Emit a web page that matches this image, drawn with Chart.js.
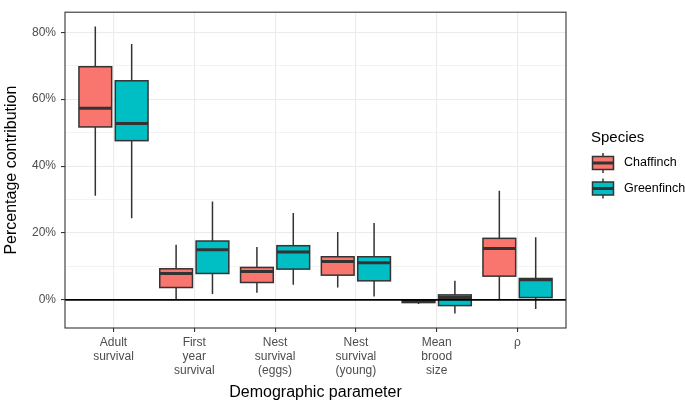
<!DOCTYPE html>
<html><head><meta charset="utf-8">
<script src="https://cdn.jsdelivr.net/npm/chart.js@4.4.1/dist/chart.umd.min.js"></script>
<style>html,body{margin:0;padding:0;background:#fff}#wrap{width:685px;height:401px;position:relative}</style>
</head><body><div id="wrap"><canvas id="c"></canvas></div>
<script>
// ---- data ----
const categories = [['Adult','survival'],['First','year','survival'],['Nest','survival','(eggs)'],['Nest','survival','(young)'],['Mean','brood','size'],['ρ']];
const species = ['Chaffinch','Greenfinch'];
const chaffMin = [31.1, 0.0, 2.1, 3.7, -1.2, 0.2];
const chaffQ1  = [51.7, 3.7, 5.2, 7.4, -0.8, 7.1];
const chaffMed = [57.3, 7.9, 8.5, 11.5, -0.4, 15.4];
const chaffQ3  = [69.7, 9.3, 9.7, 12.9, -0.1, 18.4];
const chaffMax = [81.7, 16.5, 15.8, 20.3, 0.0, 32.6];
const greenMin = [24.4, 1.8, 4.5, 1.0, -4.1, -2.7];
const greenQ1  = [47.6, 7.9, 9.2, 5.7, -1.7, 0.7];
const greenMed = [52.7, 15.0, 14.3, 11.1, 0.7, 6.0];
const greenQ3  = [65.5, 17.6, 16.2, 12.9, 1.5, 6.4];
const greenMax = [76.5, 29.4, 26.0, 23.0, 5.7, 18.7];
const yMajorTicks = [0, 20, 40, 60, 80];
const yMinorTicks = [10, 30, 50, 70];
const xTitle = 'Demographic parameter';
const yTitle = 'Percentage contribution';
const legendTitle = 'Species';

const FONT = '"Liberation Sans", Arial, Helvetica, sans-serif';
const colors = ['#F8766D', '#00BFC4'];
const stats = [
  {min: chaffMin, q1: chaffQ1, med: chaffMed, q3: chaffQ3, max: chaffMax},
  {min: greenMin, q1: greenQ1, med: greenMed, q3: greenQ3, max: greenMax}
];

const datasets = stats.map((s, d) => ({
  label: species[d],
  data: categories.map((c, i) => ({x: i + 1, y: [s.q1[i], s.q3[i]]})),
  backgroundColor: colors[d],
  borderWidth: 0,
  categoryPercentage: 0.9,
  barPercentage: 0.9
}));

const boxPlugin = {
  id: 'boxplot',
  beforeDatasetsDraw(chart) {
    const ctx = chart.ctx, y = chart.scales.y;
    ctx.save();
    ctx.strokeStyle = '#333333';
    ctx.lineWidth = 1.5;
    stats.forEach((s, d) => {
      chart.getDatasetMeta(d).data.forEach((el, i) => {
        const x = el.x;
        ctx.beginPath();
        ctx.moveTo(x, y.getPixelForValue(s.max[i]));
        ctx.lineTo(x, y.getPixelForValue(s.q3[i]));
        ctx.moveTo(x, y.getPixelForValue(s.q1[i]));
        ctx.lineTo(x, y.getPixelForValue(s.min[i]));
        ctx.stroke();
      });
    });
    ctx.restore();
  },
  afterDatasetsDraw(chart) {
    const ctx = chart.ctx, y = chart.scales.y, a = chart.chartArea;
    ctx.save();
    ctx.strokeStyle = '#333333';
    stats.forEach((s, d) => {
      chart.getDatasetMeta(d).data.forEach((el, i) => {
        const l = el.x - el.width / 2, w = el.width;
        const t = y.getPixelForValue(s.q3[i]), b = y.getPixelForValue(s.q1[i]);
        ctx.lineWidth = 1.5;
        ctx.strokeRect(l, t, w, b - t);
        ctx.lineWidth = 3;
        const m = y.getPixelForValue(s.med[i]);
        ctx.beginPath(); ctx.moveTo(l, m); ctx.lineTo(l + w, m); ctx.stroke();
      });
    });
    // reference line at 0
    const z = y.getPixelForValue(0);
    ctx.strokeStyle = '#000000';
    ctx.lineWidth = 1.6;
    ctx.beginPath(); ctx.moveTo(a.left, z); ctx.lineTo(a.right, z); ctx.stroke();
    ctx.restore();
  },
  afterDraw(chart) {
    const ctx = chart.ctx, a = chart.chartArea;
    ctx.save();
    // panel border
    ctx.strokeStyle = '#333333';
    ctx.lineWidth = 1.1;
    ctx.strokeRect(a.left, a.top, a.right - a.left, a.bottom - a.top);
    // axis titles
    ctx.fillStyle = '#000';
    ctx.font = '16px ' + FONT;
    ctx.textAlign = 'center';
    ctx.textBaseline = 'alphabetic';
    ctx.fillText(xTitle, (a.left + a.right) / 2, 397);
    ctx.save();
    ctx.translate(15.5, (a.top + a.bottom) / 2);
    ctx.rotate(-Math.PI / 2);
    ctx.fillText(yTitle, 0, 0);
    ctx.restore();
    // legend
    ctx.textAlign = 'left';
    ctx.font = '15px ' + FONT;
    ctx.fillText(legendTitle, 591, 141.5);
    const centers = [163, 188.5];
    species.forEach((sp, d) => {
      const cx = 603, cy = centers[d];
      ctx.strokeStyle = '#333333';
      ctx.lineWidth = 1.5;
      ctx.beginPath();
      ctx.moveTo(cx, cy - 10); ctx.lineTo(cx, cy + 10); ctx.stroke();
      ctx.fillStyle = colors[d];
      ctx.fillRect(cx - 10.5, cy - 6.5, 21, 13);
      ctx.strokeRect(cx - 10.5, cy - 6.5, 21, 13);
      ctx.lineWidth = 3;
      ctx.beginPath(); ctx.moveTo(cx - 10.5, cy); ctx.lineTo(cx + 10.5, cy); ctx.stroke();
      ctx.fillStyle = '#000';
      ctx.font = '12.5px ' + FONT;
      ctx.textBaseline = 'middle';
      ctx.fillText(sp, 624, cy);
      ctx.textBaseline = 'alphabetic';
    });
    ctx.restore();
  }
};

new Chart(document.getElementById('c'), {
  type: 'bar',
  data: {datasets},
  options: {
    responsive: true,
    maintainAspectRatio: false,
    animation: false,
    devicePixelRatio: 1,
    layout: {padding: {left: 0, top: 1, right: 119, bottom: 0}},
    plugins: {legend: {display: false}, tooltip: {enabled: false}},
    scales: {
      x: {
        type: 'linear',
        offset: false,
        min: 0.4, max: 6.6,
        afterBuildTicks: s => { s.ticks = categories.map((c, i) => ({value: i + 1})); },
        afterFit: s => { s.height = 73; },
        grid: {offset: false, color: '#EBEBEB', lineWidth: 1.1, tickColor: '#333333', tickLength: 4, tickWidth: 1.1, drawOnChartArea: true},
        border: {display: false},
        ticks: {
          autoSkip: false, maxRotation: 0, padding: 4, color: '#4D4D4D',
          font: {family: FONT, size: 12, lineHeight: 1.17},
          callback: v => categories[Math.round(v) - 1]
        }
      },
      y: {
        type: 'linear',
        min: -8.4, max: 86,
        afterBuildTicks: s => { s.ticks = [...yMajorTicks, ...yMinorTicks].sort((p, q) => p - q).map(v => ({value: v})); },
        afterFit: s => { s.width = 65; },
        grid: {
          color: '#EBEBEB',
          lineWidth: c => yMajorTicks.includes(c.tick.value) ? 1.1 : 0.6,
          tickColor: c => yMajorTicks.includes(c.tick.value) ? '#333333' : 'rgba(0,0,0,0)',
          tickLength: 4, tickWidth: 1.1
        },
        border: {display: false},
        ticks: {
          autoSkip: false, padding: 5, color: '#4D4D4D',
          font: {family: FONT, size: 12},
          callback: v => yMajorTicks.includes(v) ? v + '%' : ''
        }
      }
    }
  },
  plugins: [boxPlugin]
});
</script>
</body></html>
